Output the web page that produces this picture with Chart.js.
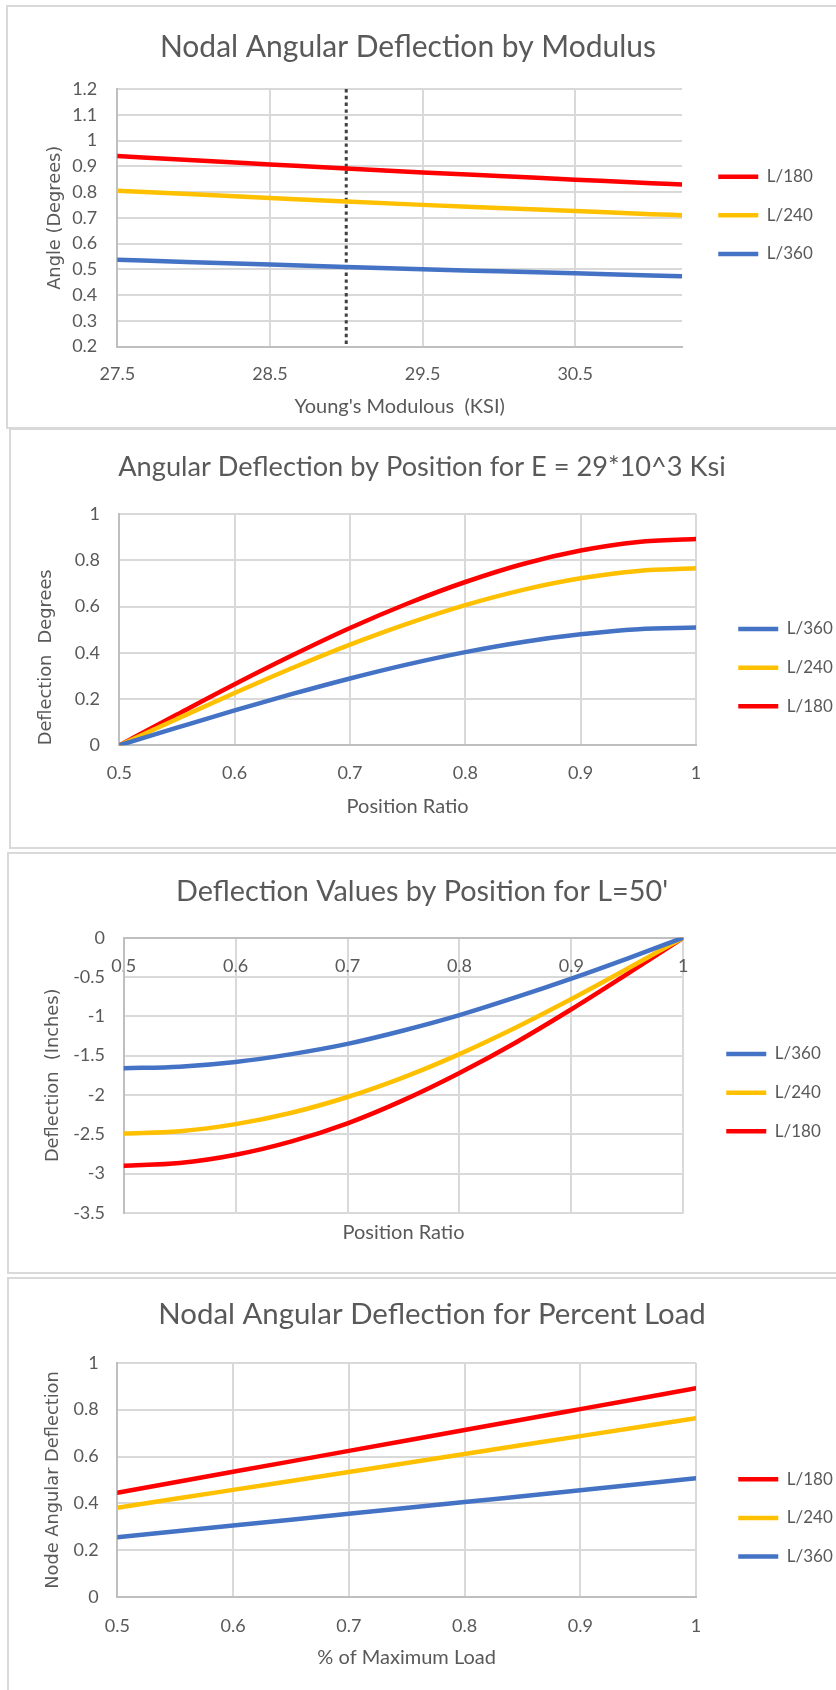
<!DOCTYPE html>
<html>
<head>
<meta charset="utf-8">
<title>Beam deflection charts</title>
<script src="https://cdn.jsdelivr.net/npm/chart.js@4.4.1/dist/chart.umd.min.js"></script>
<style>
  html, body { margin: 0; padding: 0; background: #fff; }
  body { position: relative; width: 836px; height: 1690px; overflow: hidden; }
  .frame { position: absolute; box-sizing: border-box; width: 900px; border: 2px solid #d9d9d9; }
  canvas { position: absolute; }
</style>
</head>
<body>
<div class="frame" style="left:6px;top:5px;height:424px"></div>
<div class="frame" style="left:9px;top:428px;height:421px"></div>
<div class="frame" style="left:7px;top:852px;height:422px"></div>
<div class="frame" style="left:7px;top:1277px;height:500px"></div>

<canvas id="modChart" width="860" height="428" style="top:0px"></canvas>
<canvas id="slopeChart" width="860" height="418" style="top:429px"></canvas>
<canvas id="deflChart" width="860" height="420" style="top:853px"></canvas>
<canvas id="loadChart" width="860" height="412" style="top:1278px"></canvas>

<script>
// ============================================================
// Four Excel-style line charts of beam deflection, redrawn with
// Chart.js.
// ============================================================

// --- Chart 1: nodal angle vs Young's modulus ---
const MOD_X = [27.5, 28, 28.5, 29, 29.5, 30, 30.5, 31, 31.2];
const MOD_L180 = [0.94, 0.923, 0.907, 0.891, 0.876, 0.862, 0.848, 0.834, 0.829];
const MOD_L240 = [0.805, 0.791, 0.777, 0.763, 0.750, 0.738, 0.726, 0.714, 0.710];
const MOD_L360 = [0.537, 0.527, 0.518, 0.509, 0.500, 0.492, 0.484, 0.476, 0.473];
const MOD_MARK = 29; // design modulus, dotted marker
const MOD_X_TICKS = [27.5, 28.5, 29.5, 30.5];
const MOD_Y_TICKS = [0.2, 0.3, 0.4, 0.5, 0.6, 0.7, 0.8, 0.9, 1, 1.1, 1.2];

// --- Chart 2: angular deflection by position ---
const POS_X = [0.5, 0.55, 0.6, 0.65, 0.7, 0.75, 0.8, 0.85, 0.9, 0.95, 1];
const POS_L360 = [0, 0.076, 0.151, 0.222, 0.289, 0.350, 0.403, 0.447, 0.480, 0.502, 0.509];
const POS_L240 = [0, 0.114, 0.226, 0.334, 0.435, 0.526, 0.606, 0.672, 0.722, 0.754, 0.765];
const POS_L180 = [0, 0.133, 0.264, 0.389, 0.507, 0.613, 0.706, 0.784, 0.842, 0.879, 0.892];
const POS_X_TICKS = [0.5, 0.6, 0.7, 0.8, 0.9, 1];
const POS_Y_TICKS = [0, 0.2, 0.4, 0.6, 0.8, 1];

// --- Chart 3: deflection values by position (L = 50') ---
const DEF_X = [0.5, 0.55, 0.6, 0.65, 0.7, 0.75, 0.8, 0.85, 0.9, 0.95, 1];
const DEF_L360 = [-1.66, -1.64, -1.58, -1.48, -1.35, -1.18, -0.985, -0.76, -0.52, -0.265, 0];
const DEF_L240 = [-2.49, -2.46, -2.37, -2.225, -2.025, -1.775, -1.48, -1.145, -0.78, -0.395, 0];
const DEF_L180 = [-2.9, -2.865, -2.76, -2.59, -2.36, -2.065, -1.72, -1.335, -0.91, -0.46, 0];
const DEF_X_TICKS = [0.5, 0.6, 0.7, 0.8, 0.9, 1];
const DEF_Y_TICKS = [-3.5, -3, -2.5, -2, -1.5, -1, -0.5, 0];

// --- Chart 4: nodal angle vs percent load ---
const LOAD_X = [0.5, 0.6, 0.7, 0.8, 0.9, 1];
const LOAD_L180 = [0.446, 0.535, 0.624, 0.713, 0.802, 0.891];
const LOAD_L240 = [0.382, 0.458, 0.534, 0.611, 0.687, 0.763];
const LOAD_L360 = [0.256, 0.306, 0.356, 0.406, 0.456, 0.507];
const LOAD_X_TICKS = [0.5, 0.6, 0.7, 0.8, 0.9, 1];
const LOAD_Y_TICKS = [0, 0.2, 0.4, 0.6, 0.8, 1];

const FONT = 'Lato, "Open Sans", sans-serif';
const AXIS_TITLE_FONT = '"DejaVu Sans", Verdana, sans-serif';
const TEXT = '#595959';
const GRID = '#d9d9d9';
const AXIS = '#bfbfbf';
const RED = '#ff0000';
const GOLD = '#ffc000';
const BLUE = '#4472c4';

const TICK_SIZE = 18;
const LEGEND_SIZE = 17;
const LEGEND_GAP = 21.65;
const LEGEND_LINE = 40;
const X_TITLE_SIZE = 20;
const Y_TITLE_SIZE = 17.8;
const SERIES_WIDTH = 4.5;
const CANVAS_LEFT = -30; // canvases start a little left of the page

function series(label, color, xs, ys) {
  return {
    label,
    data: xs.map((x, i) => ({ x, y: ys[i] })),
    xAxisID: 'x',
    yAxisID: 'y',
    borderColor: color,
    backgroundColor: color,
    borderWidth: SERIES_WIDTH,
    borderCapStyle: 'round',
    borderJoinStyle: 'round',
    pointRadius: 0,
    pointHoverRadius: 0,
    pointBorderWidth: SERIES_WIDTH,
    pointBorderColor: color,
    cubicInterpolationMode: 'monotone',
    fill: false,
  };
}

function fixedTicks(values) {
  return scale => { scale.ticks = values.map(v => ({ value: v })); };
}

/** Builds one chart; `s` holds the page-pixel layout of that panel. */
function drawPanel(canvasId, s, datasets, xTicks, yTicks) {
  const canvas = document.getElementById(canvasId);
  const O = CANVAS_LEFT;

  // natural legend width, as Chart.js will compute it
  const mctx = canvas.getContext('2d');
  mctx.font = `normal ${LEGEND_SIZE}px ${FONT}`;
  const textW = Math.max(...datasets.filter(d => d.label !== 'marker').map(d => mctx.measureText(d.label).width));
  const legendW = LEGEND_GAP + LEGEND_LINE + LEGEND_SIZE / 2 + textW + 10;
  const legendLeft = s.legendLine + SERIES_WIDTH / 2 - LEGEND_GAP; // page x

  const width = Math.ceil(legendLeft - O + legendW);
  const padR = width - (legendLeft - O) - legendW;
  const padL = 2 * (s.titleX - O) - width + padR;
  canvas.width = width;
  canvas.style.left = O + 'px';

  const titleLine = s.titleSize * 1.2;
  const titlePadTop = s.titleY - s.top - titleLine / 2;
  const titlePadBottom = s.chartTop - s.top - titlePadTop - titleLine;
  const bottomH = s.top + s.height - s.chartBottom;
  const tickLine = TICK_SIZE * 1.2;

  const xTitle = {
    display: true,
    text: s.xTitle,
    color: TEXT,
    font: { family: FONT, size: X_TITLE_SIZE, lineHeight: 1 },
    padding: { top: 0, bottom: s.top + s.height - s.xTitleY - X_TITLE_SIZE / 2 },
  };

  const scales = {
    x: {
      type: 'linear',
      min: s.xMin,
      max: s.xMax,
      position: s.xAtZero ? { y: 0 } : 'bottom',
      afterBuildTicks: fixedTicks(xTicks),
      afterFit: sc => { if (!s.xAtZero) sc.height = bottomH; },
      grid: { color: GRID, lineWidth: 2, drawTicks: false },
      border: { color: AXIS, width: 2 },
      ticks: {
        color: TEXT,
        font: { family: FONT, size: TICK_SIZE },
        padding: s.xTickY - (s.xAtZero ? s.chartTop : s.chartBottom) - tickLine / 2,
        maxRotation: 0,
        autoSkip: false,
        callback: v => String(v),
      },
      title: s.xAtZero ? { display: false } : xTitle,
    },
    y: {
      type: 'linear',
      min: yTicks[0],
      max: yTicks[yTicks.length - 1],
      position: 'left',
      afterBuildTicks: fixedTicks(yTicks),
      afterFit: sc => { sc.width = s.chartLeft - O - padL; },
      grid: { color: GRID, lineWidth: 2, drawTicks: false },
      border: { color: AXIS, width: 2 },
      ticks: {
        color: TEXT,
        font: { family: FONT, size: TICK_SIZE },
        padding: s.yTickPad,
        autoSkip: false,
        callback: v => String(v),
      },
      title: {
        display: true,
        text: s.yTitle,
        align: s.yTitleAlign || 'center',
        color: TEXT,
        font: { family: AXIS_TITLE_FONT, size: Y_TITLE_SIZE, lineHeight: 1 },
        padding: { top: s.yTitleX - O - padL - Y_TITLE_SIZE / 2, bottom: 0 },
      },
    },
  };

  if (s.xAtZero) {
    // bottom strip that only carries the x-axis title
    scales.xb = {
      type: 'linear',
      position: 'bottom',
      afterFit: sc => { sc.height = bottomH; },
      grid: { display: false },
      border: { display: false },
      ticks: { display: false },
      title: xTitle,
    };
  }

  // empty strip between plot and legend
  scales.gap = {
    type: 'linear',
    position: 'right',
    afterFit: sc => { sc.width = legendLeft - s.chartRight; },
    grid: { display: false },
    border: { display: false },
    ticks: { display: false },
  };

  return new Chart(canvas, {
    type: 'line',
    data: { datasets },
    options: {
      responsive: false,
      animation: false,
      events: [],
      layout: { padding: { left: padL, right: padR, top: 0, bottom: 0 } },
      scales,
      plugins: {
        tooltip: { enabled: false },
        title: {
          display: true,
          text: s.title,
          color: TEXT,
          font: { family: FONT, size: s.titleSize, weight: 'normal', lineHeight: 1.2 },
          padding: { top: titlePadTop, bottom: titlePadBottom },
        },
        legend: {
          position: 'right',
          align: 'start',
          fullSize: false,
          title: {
            display: true,
            text: ' ',
            font: { size: 1, lineHeight: 1 },
            padding: { top: s.legendFirstY - s.chartTop - LEGEND_GAP - LEGEND_SIZE / 2 - 1, bottom: 0 },
          },
          labels: {
            usePointStyle: true,
            pointStyle: 'line',
            pointStyleWidth: LEGEND_LINE,
            padding: LEGEND_GAP,
            color: TEXT,
            font: { family: FONT, size: LEGEND_SIZE },
            filter: item => item.text !== 'marker',
          },
        },
      },
    },
  });
}

// Chart 1
const markerLine = {
  label: 'marker',
  data: [
    { x: MOD_MARK, y: MOD_Y_TICKS[MOD_Y_TICKS.length - 1] },
    { x: MOD_MARK, y: MOD_Y_TICKS[0] },
  ],
  xAxisID: 'x',
  yAxisID: 'y',
  borderColor: '#404040',
  borderWidth: 3,
  borderDash: [3.4, 3.4],
  borderCapStyle: 'butt',
  pointRadius: 0,
  tension: 0,
  fill: false,
};

drawPanel('modChart', {
  top: 0, height: 428,
  chartTop: 89, chartBottom: 346.5, chartLeft: 117.3, chartRight: 682,
  title: 'Nodal Angular Deflection by Modulus', titleSize: 30, titleX: 408, titleY: 47,
  xMin: 27.5, xMax: 31.2, xTickY: 374, xTitle: "Young's Modulous  (KSI)", xTitleY: 407,
  yTitle: 'Angle (Degrees)', yTitleX: 55, yTickPad: 20,
  legendLine: 716, legendFirstY: 176.7,
}, [
  series('L/180', RED, MOD_X, MOD_L180),
  series('L/240', GOLD, MOD_X, MOD_L240),
  series('L/360', BLUE, MOD_X, MOD_L360),
  markerLine,
], MOD_X_TICKS, MOD_Y_TICKS);

// Chart 2
drawPanel('slopeChart', {
  top: 429, height: 418,
  chartTop: 514, chartBottom: 745.3, chartLeft: 119.3, chartRight: 696,
  title: 'Angular Deflection by Position for E = 29*10^3 Ksi', titleSize: 27.2, titleX: 422, titleY: 467,
  xMin: 0.5, xMax: 1, xTickY: 773, xTitle: 'Position Ratio', xTitleY: 807,
  yTitle: 'Deflection  Degrees', yTitleX: 46.6, yTickPad: 19.3, yTitleAlign: 'start',
  legendLine: 736, legendFirstY: 629,
}, [
  series('L/360', BLUE, POS_X, POS_L360),
  series('L/240', GOLD, POS_X, POS_L240),
  series('L/180', RED, POS_X, POS_L180),
], POS_X_TICKS, POS_Y_TICKS);

// Chart 3 (x axis sits on y = 0, at the top of the plot)
drawPanel('deflChart', {
  top: 853, height: 420,
  chartTop: 937.7, chartBottom: 1213, chartLeft: 123.7, chartRight: 683.3,
  title: "Deflection Values by Position for L=50'", titleSize: 28.8, titleX: 422, titleY: 891.7,
  xMin: 0.5, xMax: 1, xAtZero: true, xTickY: 966, xTitle: 'Position Ratio', xTitleY: 1233,
  yTitle: 'Deflection  (Inches)', yTitleX: 53, yTickPad: 18.7,
  legendLine: 724, legendFirstY: 1054,
}, [
  series('L/360', BLUE, DEF_X, DEF_L360),
  series('L/240', GOLD, DEF_X, DEF_L240),
  series('L/180', RED, DEF_X, DEF_L180),
], DEF_X_TICKS, DEF_Y_TICKS);

// Chart 4
drawPanel('loadChart', {
  top: 1278, height: 412,
  chartTop: 1362.7, chartBottom: 1597.3, chartLeft: 117.3, chartRight: 696,
  title: 'Nodal Angular Deflection for Percent Load', titleSize: 29.4, titleX: 432, titleY: 1315,
  xMin: 0.5, xMax: 1, xTickY: 1626, xTitle: '% of Maximum Load', xTitleY: 1658,
  yTitle: 'Node Angular Deflection', yTitleX: 53, yTickPad: 18.6,
  legendLine: 736, legendFirstY: 1479.3,
}, [
  series('L/180', RED, LOAD_X, LOAD_L180),
  series('L/240', GOLD, LOAD_X, LOAD_L240),
  series('L/360', BLUE, LOAD_X, LOAD_L360),
], LOAD_X_TICKS, LOAD_Y_TICKS);
</script>
</body>
</html>
